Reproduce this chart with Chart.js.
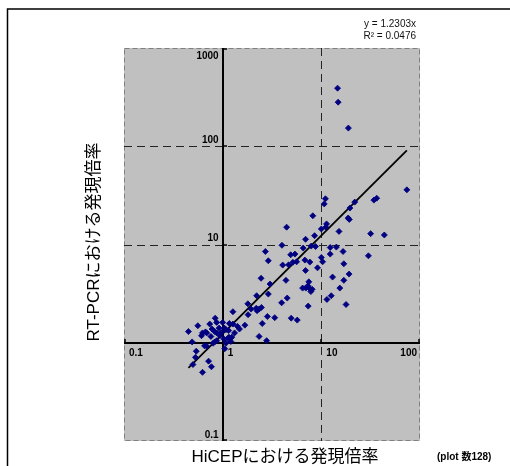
<!DOCTYPE html>
<html>
<head>
<meta charset="utf-8">
<script src="https://cdn.jsdelivr.net/npm/chart.js@4.4.1/dist/chart.umd.min.js"></script>
<style>
html,body{margin:0;padding:0;background:#fff;}
#wrap{position:relative;width:510px;height:466px;}
</style>
</head>
<body>
<div id="wrap"><canvas id="c" width="510" height="466"></canvas></div>
<script>
// HiCEP fold change (x) vs RT-PCR fold change (y)
const hicepValues = [
14.6,14.8,18.8,73.6,36.4,34.1,11.0,10.7,21.8,19.5,
8.2,18.7,19.2,11.3,11.1,10.0,4.45,15.1,31.6,43.5,
8.54,6.92,3.99,6.55,7.89,8.74,12.3,14.2,2.71,16.6,
4.89,5.40,12.3,30.0,10.0,10.3,2.90,6.81,7.65,5.62,
4.06,4.66,16.9,9.15,6.92,19.1,13.0,2.45,4.38,7.47,
16.9,3.02,6.46,6.97,7.47,7.83,8.07,15.4,12.6,11.4,
17.8,7.36,2.21,2.90,4.51,3.96,1.80,1.94,2.19,2.34,
2.47,1.27,1.81,2.84,3.37,4.95,5.70,2.52,1.68,0.84,
0.87,0.74,0.56,1.00,1.17,1.27,1.41,1.48,0.78,0.83,
0.92,1.04,1.08,1.15,0.45,0.625,0.67,0.69,0.61,0.87,
0.97,1.16,1.24,1.13,2.34,2.79,1.03,0.87,0.83,1.21,
0.49,0.655,0.69,0.80,1.05,0.54,0.53,0.72,0.50,0.77,
0.625,1.32,0.94,0.76,1.08,7.31,5.15,2.23
];
const rtpcrValues = [
390,281,153,36.0,29.6,28.3,29.2,25.9,27.0,23.5,
19.6,18.6,18.0,16.2,15.0,14.4,15.0,13.6,12.9,12.5,
12.3,11.3,9.82,9.19,9.63,9.54,9.32,9.41,8.49,8.49,
7.86,7.99,7.99,7.67,7.38,6.67,6.83,6.94,6.62,6.67,
6.17,6.21,6.36,5.79,5.44,5.00,4.66,4.53,4.32,4.17,
4.32,3.96,3.60,3.60,3.63,3.32,3.50,3.60,3.01,2.76,
2.45,2.36,3.01,3.13,2.85,2.55,2.49,2.20,2.25,2.20,
2.29,2.07,1.93,1.85,1.80,1.78,1.70,1.57,1.51,1.78,
1.61,1.55,1.49,1.61,1.57,1.55,1.47,1.38,1.38,1.30,
1.41,1.41,1.36,1.33,1.30,1.26,1.29,1.26,1.18,1.26,
1.27,1.14,1.14,1.11,1.16,1.05,1.09,1.05,1.02,1.03,
1.02,0.93,0.92,0.99,0.87,0.82,0.71,0.65,0.60,0.57,
0.50,1.26,1.18,1.16,0.99,3.80,6.59,2.12
];
const slope = 1.2303;
const equationLabel = 'y = 1.2303x';
const r2Label = 'R² = 0.0476';
const xTickValues = [0.1, 1, 10, 100];
const xTickLabels = ['0.1', '1', '10', '100'];
const yTickValues = [0.1, 10, 100, 1000];
const yTickLabels = ['0.1', '10', '100', '1000'];
const yDecades = [0.1, 1, 10, 100, 1000];
const xDecades = [0.1, 1, 10, 100];
const xGridValues = [10];
const yGridValues = [10, 100];
const xTitle = 'HiCEPにおける発現倍率';
const yTitle = 'RT-PCRにおける発現倍率';
const noteLabel = '(plot 数128)';

const points = hicepValues.map((x, i) => ({x: x, y: rtpcrValues[i]}));
const xMin = Math.min(...hicepValues), xMax = Math.max(...hicepValues);
const fitLine = [{x: xMin, y: slope * xMin}, {x: xMax, y: slope * xMax}];

const FONT = '"Liberation Sans", Arial, "Noto Sans CJK JP", sans-serif';

const decor = {
  id: 'decor',
  beforeDraw(chart) {
    const ctx = chart.ctx, a = chart.chartArea;
    ctx.save();
    ctx.fillStyle = '#fff';
    ctx.fillRect(0, 0, chart.width, chart.height);
    // outer frame
    ctx.strokeStyle = '#000';
    ctx.lineWidth = 1.5;
    ctx.beginPath();
    ctx.moveTo(7.5, 466);
    ctx.lineTo(7.5, 9);
    ctx.lineTo(510, 9);
    ctx.stroke();
    // plot background
    ctx.fillStyle = '#c0c0c0';
    ctx.fillRect(a.left, a.top, a.right - a.left, a.bottom - a.top);
    ctx.strokeStyle = '#808080';
    ctx.lineWidth = 1;
    ctx.setLineDash([5, 3]);
    ctx.strokeRect(a.left + 0.5, a.top + 0.5, a.right - a.left - 1, a.bottom - a.top - 1);
    ctx.restore();
  },
  beforeDatasetsDraw(chart) {
    const ctx = chart.ctx, a = chart.chartArea;
    const xs = chart.scales.x, ys = chart.scales.y;
    ctx.save();
    // dashed grid lines
    ctx.strokeStyle = '#222';
    ctx.lineWidth = 1;
    ctx.setLineDash([8, 5]);
    xGridValues.forEach(v => {
      const px = Math.round(xs.getPixelForValue(v)) + 0.5;
      ctx.beginPath(); ctx.moveTo(px, a.top); ctx.lineTo(px, a.bottom); ctx.stroke();
    });
    yGridValues.forEach(v => {
      const py = Math.round(ys.getPixelForValue(v)) + 0.5;
      ctx.beginPath(); ctx.moveTo(a.left, py); ctx.lineTo(a.right, py); ctx.stroke();
    });
    ctx.setLineDash([]);
    // axes crossing at (1,1)
    const ax = Math.round(xs.getPixelForValue(1));
    const ay = Math.round(ys.getPixelForValue(1));
    ctx.strokeStyle = '#000';
    ctx.lineWidth = 2;
    ctx.beginPath(); ctx.moveTo(ax, a.top); ctx.lineTo(ax, a.bottom); ctx.stroke();
    ctx.beginPath(); ctx.moveTo(a.left, ay); ctx.lineTo(a.right, ay); ctx.stroke();
    // tick marks
    ctx.lineWidth = 1.5;
    yDecades.forEach(v => {
      let py = Math.round(ys.getPixelForValue(v));
      py = Math.min(Math.max(py, a.top + 1), a.bottom - 1);
      ctx.beginPath(); ctx.moveTo(ax, py); ctx.lineTo(ax + 4, py); ctx.stroke();
    });
    xDecades.forEach(v => {
      let px = Math.round(xs.getPixelForValue(v));
      px = Math.min(Math.max(px, a.left + 1), a.right - 1);
      ctx.beginPath(); ctx.moveTo(px, ay); ctx.lineTo(px, ay - 4); ctx.stroke();
    });
    ctx.restore();
  },
  afterDraw(chart) {
    const ctx = chart.ctx, a = chart.chartArea;
    const xs = chart.scales.x, ys = chart.scales.y;
    const ax = xs.getPixelForValue(1);
    const ay = ys.getPixelForValue(1);
    ctx.save();
    ctx.fillStyle = '#000';
    ctx.font = 'bold 10px ' + FONT;
    // y tick labels
    ctx.textAlign = 'right';
    ctx.textBaseline = 'bottom';
    yTickValues.forEach((v, i) => {
      let py = ys.getPixelForValue(v) - 1;
      py = Math.max(py, a.top + 13);
      ctx.fillText(yTickLabels[i], ax - 4, py);
    });
    // x tick labels
    ctx.textBaseline = 'top';
    xTickValues.forEach((v, i) => {
      const w = ctx.measureText(xTickLabels[i]).width;
      let px = xs.getPixelForValue(v) + 5;
      px = Math.min(px, a.right - 3 - w);
      ctx.textAlign = 'left';
      ctx.fillText(xTickLabels[i], px, ay + 5);
    });
    // equation
    ctx.font = '10px ' + FONT;
    ctx.fillStyle = '#111';
    ctx.textAlign = 'right';
    ctx.textBaseline = 'middle';
    ctx.fillText(equationLabel, a.right - 4, 24);
    ctx.fillText(r2Label, a.right - 4, 36);
    // axis titles
    ctx.fillStyle = '#000';
    ctx.font = '17px ' + FONT;
    ctx.textAlign = 'center';
    ctx.textBaseline = 'middle';
    ctx.fillText(xTitle, (a.left + a.right) / 2 + 13, 457);
    ctx.save();
    ctx.translate(94, 242);
    ctx.rotate(-Math.PI / 2);
    ctx.fillText(yTitle, 0, 0);
    ctx.restore();
    // note
    ctx.font = 'bold 10px ' + FONT;
    ctx.textAlign = 'left';
    ctx.fillText(noteLabel, 437, 457);
    ctx.restore();
  }
};

new Chart(document.getElementById('c'), {
  type: 'scatter',
  data: {
    datasets: [
      {
        type: 'line',
        data: fitLine,
        borderColor: '#000',
        borderWidth: 1.8,
        pointRadius: 0,
        fill: false,
        order: 1
      },
      {
        data: points,
        pointStyle: 'rectRot',
        pointRadius: 3,
        backgroundColor: '#000080',
        borderColor: '#000080',
        borderWidth: 0.8,
        order: 0
      }
    ]
  },
  options: {
    responsive: false,
    animation: false,
    devicePixelRatio: 1,
    layout: {padding: {left: 124, top: 48, right: 90, bottom: 25}},
    plugins: {legend: {display: false}, tooltip: {enabled: false}},
    scales: {
      x: {type: 'logarithmic', min: 0.1, max: 100, display: false},
      y: {type: 'logarithmic', min: 0.1, max: 1000, display: false}
    }
  },
  plugins: [decor]
});
</script>
</body>
</html>
